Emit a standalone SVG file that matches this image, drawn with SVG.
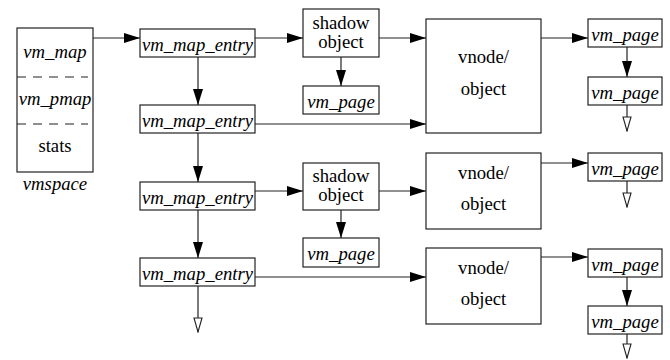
<svg xmlns="http://www.w3.org/2000/svg" width="670" height="360" viewBox="0 0 670 360">
<defs>
<style>
.box{fill:#fff;stroke:#222;stroke-width:1.2}
.ln{fill:none;stroke:#222;stroke-width:1.2}
.ar{marker-end:url(#fa)}
.ho{marker-end:url(#ha)}
.dash{stroke:#222;stroke-width:1.2;stroke-dasharray:9 7}
.t{font-family:'Liberation Serif','DejaVu Serif',serif;font-size:18.7px;fill:#000;text-anchor:middle}
.i{font-style:italic}
</style>
<marker id="fa" markerUnits="userSpaceOnUse" markerWidth="16" markerHeight="10" refX="16" refY="5" orient="auto">
<path d="M0,0 L16,5 L0,10 z" fill="#000"/>
</marker>
<marker id="ha" markerUnits="userSpaceOnUse" markerWidth="16" markerHeight="10" refX="15" refY="5" orient="auto">
<path d="M1,1 L15,5 L1,9 z" fill="#fff" stroke="#222" stroke-width="1.1"/>
</marker>
</defs>

<g id="connectors">
<line class="ln ar" x1="93" y1="38" x2="140" y2="38"/>
<line class="ln ar" x1="255" y1="38" x2="303" y2="38"/>
<line class="ln ar" x1="379" y1="38" x2="426" y2="38"/>
<line class="ln ar" x1="255" y1="124" x2="426" y2="124"/>
<line class="ln ar" x1="341" y1="57" x2="341" y2="86"/>
<line class="ln ar" x1="541" y1="38" x2="588" y2="38"/>
<line class="ln ar" x1="627" y1="47" x2="627" y2="77"/>
<line class="ln ho" x1="627" y1="105" x2="627" y2="131"/>
<line class="ln ar" x1="198" y1="57" x2="198" y2="105"/>
<line class="ln ar" x1="198" y1="133" x2="198" y2="182"/>
<line class="ln ar" x1="198" y1="210" x2="198" y2="258"/>
<line class="ln ho" x1="198" y1="286" x2="198" y2="332"/>
<line class="ln ar" x1="255" y1="191" x2="303" y2="191"/>
<line class="ln ar" x1="379" y1="191" x2="426" y2="191"/>
<line class="ln ar" x1="341" y1="210" x2="341" y2="238"/>
<line class="ln ar" x1="541" y1="163" x2="588" y2="163"/>
<line class="ln ho" x1="627" y1="181" x2="627" y2="207"/>
<line class="ln ar" x1="255" y1="277" x2="426" y2="277"/>
<line class="ln ar" x1="541" y1="257" x2="588" y2="257"/>
<line class="ln ar" x1="627" y1="277" x2="627" y2="306"/>
<line class="ln ho" x1="627" y1="334" x2="627" y2="358"/>
</g>

<g class="t" font-family="Liberation Serif, DejaVu Serif, serif">
<g id="vmspace">
<rect class="box" x="17" y="28" width="76" height="144"/>
<line class="dash" x1="17" y1="77" x2="88" y2="77"/>
<line class="dash" x1="17" y1="124" x2="88" y2="124"/>
<text class="i" x="55" y="58">vm_map</text>
<text class="i" x="55" y="105">vm_pmap</text>
<text x="55" y="152">stats</text>
<text class="i" x="55" y="190">vmspace</text>
</g>

<g id="entry1"><rect class="box" x="140" y="29" width="115" height="28"/><text class="i" x="197.5" y="51">vm_map_entry</text></g>
<g id="entry2"><rect class="box" x="140" y="105" width="115" height="28"/><text class="i" x="197.5" y="127">vm_map_entry</text></g>
<g id="entry3"><rect class="box" x="140" y="182" width="115" height="28"/><text class="i" x="197.5" y="204">vm_map_entry</text></g>
<g id="entry4"><rect class="box" x="140" y="258" width="115" height="28"/><text class="i" x="197.5" y="280">vm_map_entry</text></g>

<g id="shadow1"><rect class="box" x="303" y="9" width="76" height="48"/><text x="341" y="29">shadow</text><text x="341" y="48">object</text></g>
<g id="spage1"><rect class="box" x="303" y="86" width="76" height="28"/><text class="i" x="341" y="108">vm_page</text></g>
<g id="shadow2"><rect class="box" x="303" y="163" width="76" height="47"/><text x="341" y="182">shadow</text><text x="341" y="201">object</text></g>
<g id="spage2"><rect class="box" x="303" y="238" width="76" height="29"/><text class="i" x="341" y="260">vm_page</text></g>

<g id="vnode1"><rect class="box" x="426" y="19" width="115" height="114"/><text x="483.5" y="63">vnode/</text><text x="483.5" y="95">object</text></g>
<g id="vnode2"><rect class="box" x="426" y="153" width="115" height="76"/><text x="483.5" y="179">vnode/</text><text x="483.5" y="210">object</text></g>
<g id="vnode3"><rect class="box" x="426" y="248" width="115" height="76"/><text x="483.5" y="274">vnode/</text><text x="483.5" y="305">object</text></g>

<g id="page1"><rect class="box" x="588" y="19" width="74" height="28"/><text class="i" x="625" y="41">vm_page</text></g>
<g id="page2"><rect class="box" x="588" y="77" width="74" height="28"/><text class="i" x="625" y="99">vm_page</text></g>
<g id="page3"><rect class="box" x="588" y="153" width="74" height="28"/><text class="i" x="625" y="175">vm_page</text></g>
<g id="page4"><rect class="box" x="588" y="249" width="74" height="28"/><text class="i" x="625" y="271">vm_page</text></g>
<g id="page5"><rect class="box" x="588" y="306" width="74" height="28"/><text class="i" x="625" y="328">vm_page</text></g>
</g>
</svg>
